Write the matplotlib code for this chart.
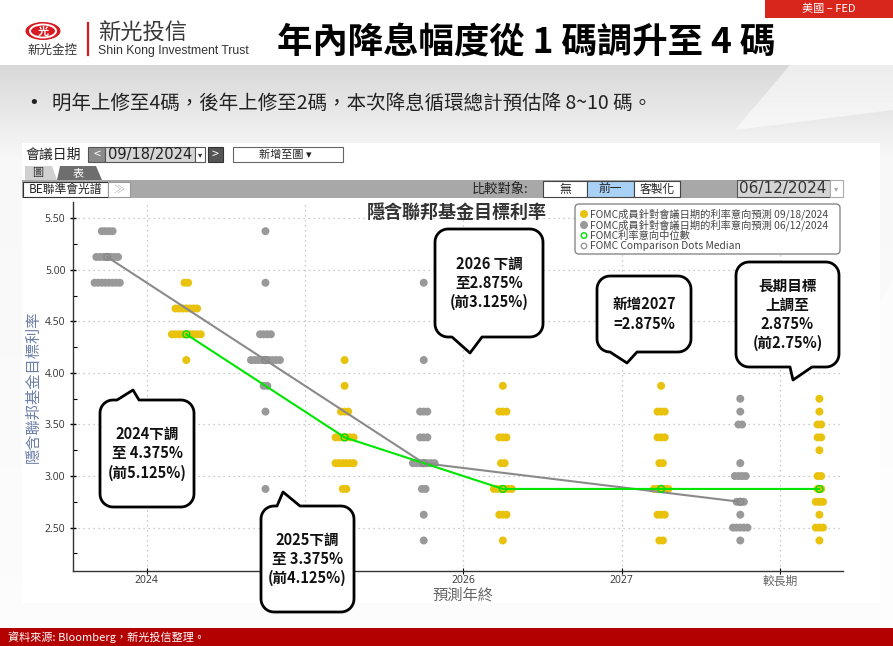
import numpy as np
import matplotlib
matplotlib.use("Agg")
import matplotlib.pyplot as plt
from matplotlib.patches import Polygon, Rectangle, Ellipse, FancyBboxPatch

plt.rcParams['font.family'] = ['Noto Sans CJK TC', 'DejaVu Sans']

# ---- data ----
categories = ['2024', '2025', '2026', '2027', '較長期']

# 09/18/2024 FOMC dots (yellow)
sep_rates = [
    [4.875, 4.625, 4.375, 4.125],
    [4.125, 3.875, 3.625, 3.375, 3.125, 2.875],
    [3.875, 3.625, 3.375, 3.125, 2.875, 2.625, 2.375],
    [3.875, 3.625, 3.375, 3.125, 2.875, 2.625, 2.375],
    [3.75, 3.625, 3.5, 3.375, 3.25, 3.0, 2.875, 2.75, 2.625, 2.5, 2.375],
]
sep_counts = [
    [2, 7, 9, 1],
    [1, 1, 3, 6, 6, 2],
    [1, 3, 3, 2, 6, 3, 1],
    [1, 3, 3, 2, 5, 3, 2],
    [1, 1, 2, 2, 1, 2, 2, 3, 1, 3, 1],
]
# 06/12/2024 FOMC dots (gray), no 2027 projection
jun_rates = [
    [5.375, 5.125, 4.875],
    [5.375, 4.875, 4.375, 4.125, 3.875, 3.625, 2.875],
    [4.875, 4.125, 3.625, 3.375, 3.125, 2.875, 2.625, 2.375],
    [],
    [3.75, 3.625, 3.5, 3.125, 3.0, 2.75, 2.625, 2.5, 2.375],
]
jun_counts = [
    [4, 7, 8],
    [1, 1, 4, 9, 2, 1, 1],
    [1, 1, 3, 3, 7, 2, 1, 1],
    [],
    [1, 1, 2, 1, 4, 3, 1, 5, 1],
]
sep_median = [4.375, 3.375, 2.875, 2.875, 2.875]
jun_median = [5.125, 4.125, 3.125, None, 2.75]

W, H = 893, 646
YELLOW = '#e8c20c'
GRAY = '#999999'

fig = plt.figure(figsize=(8.93, 6.46), dpi=100)
fig.patch.set_facecolor('white')

# background layer in pixel coords
bg = fig.add_axes([0, 0, 1, 1], zorder=0)
bg.axis('off')
grad = np.ones((200, 1, 3))
t = np.linspace(0, 1, 200)
shade = np.clip(0.85 + 0.12 * np.minimum(t * 6, 1) + 0.02 * t, 0, 1)
grad[:, 0, :] = shade[:, None]
bg.imshow(grad, extent=[0, W, 628, 65], aspect='auto', interpolation='bilinear')
bg.add_patch(Polygon([(790, 65), (893, 65), (893, 110), (735, 130)], closed=True,
                     fc='white', ec='none', alpha=0.55))
bg.add_patch(Polygon([(880, 300), (893, 280), (893, 628), (880, 628)], closed=True,
                     fc='white', ec='none', alpha=0.5))
bg.set_xlim(0, W)
bg.set_ylim(H, 0)

# header
bg.add_patch(Rectangle((765, 0), 128, 18, fc='#d9261c', ec='none'))
bg.text(829, 9, '美國 – FED', color='white', fontsize=8, ha='center', va='center')
bg.add_patch(Ellipse((43, 31), 35, 18, fc='#d71920', ec='none'))
bg.add_patch(Ellipse((43, 31), 26, 13, fc='none', ec='white', lw=1.4))
bg.text(43, 31, '光', color='white', fontsize=8, weight='bold', ha='center', va='center')
bg.text(52, 50, '新光金控', color='#333333', fontsize=9, ha='center', va='center')
bg.plot([88, 88], [23, 55], color='#d71920', lw=1.6)
bg.text(98, 33, '新光投信', color='#3a3a3a', fontsize=16, weight='medium',
        ha='left', va='center')
bg.text(98, 51, 'Shin Kong Investment Trust', color='#333333', fontsize=8.8,
        family='Liberation Sans', ha='left', va='center')
bg.text(526, 42, '年內降息幅度從 1 碼調升至 4 碼', fontsize=25.5, weight='bold',
        ha='center', va='center', color='black')
bg.text(34, 103, '•', fontsize=13, ha='center', va='center', color='#222222',
        family='DejaVu Sans')
bg.text(52, 103, '明年上修至4碼，後年上修至2碼，本次降息循環總計預估降 8~10 碼。',
        fontsize=14, ha='left', va='center', color='#222222')

# footer
bg.add_patch(Rectangle((0, 628), W, 18, fc='#b30000', ec='none'))
bg.text(8, 637, '資料來源: Bloomberg，新光投信整理。', color='white', fontsize=8,
        ha='left', va='center')

# chart panel (screenshot of the terminal)
bg.add_patch(Rectangle((22, 143), 858, 460, fc='white', ec='none'))
bg.text(25, 155, '會議日期', fontsize=10, ha='left', va='center', color='#222222')
bg.add_patch(Rectangle((88, 147), 17, 15, fc='#8a8a8a', ec='#555555', lw=0.8))
bg.text(96.5, 154.5, '<', fontsize=9, ha='center', va='center', color='white')
bg.add_patch(Rectangle((105, 147), 90, 15, fc='#d6d6d6', ec='#555555', lw=0.8))
bg.text(150, 154.5, '09/18/2024', fontsize=10.5, ha='center', va='center',
        color='#222222', family='DejaVu Sans')
bg.add_patch(Rectangle((195, 147), 10, 15, fc='white', ec='#555555', lw=0.8))
bg.text(200, 154.5, '▾', fontsize=6, ha='center', va='center', color='#333333',
        family='DejaVu Sans')
bg.add_patch(Rectangle((208, 147), 15, 15, fc='#555555', ec='#333333', lw=0.8))
bg.text(215.5, 154.5, '>', fontsize=9, ha='center', va='center', color='white')
bg.add_patch(Rectangle((233, 147), 110, 15, fc='white', ec='#666666', lw=0.8))
bg.text(285, 154.5, '新增至圖 ▾', fontsize=8, ha='center', va='center', color='#222222')
bg.add_patch(Polygon([(25, 180), (25, 166), (52, 166), (57, 180)], closed=True,
                     fc='#d0d0d0', ec='none'))
bg.text(38, 173, '圖', fontsize=8, ha='center', va='center', color='#333333')
bg.add_patch(Polygon([(57, 180), (60, 166), (96, 166), (102, 180)], closed=True,
                     fc='#6e6e6e', ec='none'))
bg.text(78, 173, '表', fontsize=8, ha='center', va='center', color='white')
bg.add_patch(Rectangle((22, 180), 821, 18, fc='#a8a8a8', ec='none'))
bg.add_patch(Rectangle((23, 182), 85, 15, fc='white', ec='#333333', lw=0.8))
bg.text(65.5, 189.5, 'BE聯準會光譜', fontsize=8.5, ha='center', va='center', color='#222222')
bg.add_patch(Rectangle((108, 182), 22, 15, fc='white', ec='#999999', lw=0.8))
bg.text(119, 189.5, '≫', fontsize=8, ha='center', va='center', color='#bbbbbb')
bg.text(528, 189.5, '比較對象:', fontsize=9.5, ha='right', va='center', color='#222222')
for (bx, bw, lab, fc) in [(543, 44, '無', 'white'), (587, 47, '前一', '#a9d1f5'),
                          (634, 46, '客製化', 'white')]:
    bg.add_patch(Rectangle((bx, 181), bw, 16, fc=fc, ec='#444444', lw=0.8))
    bg.text(bx + bw / 2, 189.5, lab, fontsize=8.5, ha='center', va='center', color='#222222')
bg.add_patch(Rectangle((737, 180), 93, 17, fc='#d4d4d4', ec='#555555', lw=0.8))
bg.text(783, 189, '06/12/2024', fontsize=11, ha='center', va='center', color='#333333',
        family='DejaVu Sans')
bg.add_patch(Rectangle((830, 180), 13, 17, fc='white', ec='#aaaaaa', lw=0.8))
bg.text(836.5, 189, '▾', fontsize=6, ha='center', va='center', color='#aaaaaa',
        family='DejaVu Sans')

# ---- the dot plot ----
ax = fig.add_axes([73 / W, 1 - 571 / H, (843 - 73) / W, (571 - 202) / H], zorder=1)
ax.set_facecolor('none')
step = 0.0228


def dots(rates, counts, shift):
    xs, ys = [], []
    for i, (rr, cc) in enumerate(zip(rates, counts)):
        for r, n in zip(rr, cc):
            for k in range(n):
                xs.append(i + shift + (k - (n - 1) / 2) * step)
                ys.append(r)
    return xs, ys


gx, gy = dots(jun_rates, jun_counts, -0.25)
yx, yy = dots(sep_rates, sep_counts, 0.25)
ax.scatter(gx, gy, s=33, color=GRAY, edgecolors='none', zorder=3)
ax.scatter(yx, yy, s=33, color=YELLOW, edgecolors='none', zorder=3)

jx = [i - 0.25 for i, m in enumerate(jun_median) if m is not None]
jy = [m for m in jun_median if m is not None]
sx = [i + 0.25 for i in range(len(sep_median))]
ax.plot(jx, jy, color='#8a8a8a', lw=1.5, zorder=4)
ax.plot(sx, sep_median, color='#00e600', lw=1.5, zorder=4)
ax.scatter(jx, jy, s=24, facecolors='none', edgecolors='#888888', lw=1, zorder=5)
ax.scatter(sx, sep_median, s=24, facecolors='none', edgecolors='#00dd00', lw=1, zorder=5)

ax.set_xlim(-0.466, 4.399)
ax.set_ylim(2.079, 5.658)
ax.set_xticks(range(len(categories)))
xlabels = ax.set_xticklabels(categories)
ax.set_yticks(np.arange(2.5, 5.51, 0.5))
ax.set_yticks(np.arange(2.25, 5.51, 0.25), minor=True)
ax.yaxis.set_major_formatter(matplotlib.ticker.FormatStrFormatter('%.2f'))
ax.tick_params(axis='y', which='major', direction='inout', length=5, width=1,
               labelsize=7.5, labelcolor='#333333', pad=3)
ax.tick_params(axis='y', which='minor', direction='in', length=3, width=0.8)
ax.tick_params(axis='x', direction='inout', length=4, labelsize=7.5,
               labelcolor='#333333', pad=1)
for lab in list(xlabels) + list(ax.get_yticklabels()):
    lab.set_family(['Open Sans', 'Noto Sans CJK TC'])
xlabels[4].set_color('#666666')
xlabels[4].set_fontsize(8.5)
xlabels[1].set_visible(False)   # hidden behind the 2025 callout
ax.grid(True, which='major', linestyle=(0, (1, 3)), color='#bbbbbb', lw=0.9)
for s in ['top', 'right']:
    ax.spines[s].set_visible(False)
for s in ['left', 'bottom']:
    ax.spines[s].set_color('#333333')
    ax.spines[s].set_linewidth(1)

# ---- foreground: titles, legend, callouts ----
fg = fig.add_axes([0, 0, 1, 1], zorder=2)
fg.axis('off')
fg.set_xlim(0, W)
fg.set_ylim(H, 0)

fg.text(457, 212, '隱含聯邦基金目標利率', fontsize=13, weight='bold', ha='center',
        va='center', color='#333333')
fg.text(33, 387, '隱含聯邦基金目標利率', fontsize=11, rotation=90, ha='center',
        va='center', color='#6c7ea6')
fg.text(463, 595, '預測年終', fontsize=11, ha='center', va='center', color='#666666')

fg.add_patch(FancyBboxPatch((575, 204), 265, 50, boxstyle='round,pad=0,rounding_size=4',
                            fc='white', ec='#888888', lw=1))
legend_rows = [
    ('FOMC成員針對會議日期的利率意向預測 09/18/2024', YELLOW, 'fill', 214),
    ('FOMC成員針對會議日期的利率意向預測 06/12/2024', GRAY, 'fill', 225),
    ('FOMC利率意向中位數', '#00dd00', 'ring', 235.5),
    ('FOMC Comparison Dots Median', '#999999', 'ring', 246),
]
for txt, c, kind, yy_ in legend_rows:
    if kind == 'fill':
        fg.add_patch(Ellipse((584, yy_), 8, 8, fc=c, ec='none'))
    else:
        fg.add_patch(Ellipse((584, yy_), 5.5, 5.5, fc='none', ec=c, lw=1))
    fg.text(590, yy_, txt, fontsize=7.4, ha='left', va='center', color='#444444')


def bubble(x0, y0, x1, y1, tail, lines, r=13):
    side, a, b, tx, ty = tail
    pts = []

    def arc(cx, cy, t0, t1):
        for tt in np.linspace(t0, t1, 10):
            pts.append((cx + r * np.cos(tt), cy + r * np.sin(tt)))

    arc(x0 + r, y0 + r, np.pi, 1.5 * np.pi)
    if side == 'top':
        pts.extend([(a, y0), (tx, ty), (b, y0)])
    arc(x1 - r, y0 + r, 1.5 * np.pi, 2 * np.pi)
    arc(x1 - r, y1 - r, 0, 0.5 * np.pi)
    if side == 'bottom':
        pts.extend([(b, y1), (tx, ty), (a, y1)])
    arc(x0 + r, y1 - r, 0.5 * np.pi, np.pi)
    fg.add_patch(Polygon(pts, closed=True, fc='white', ec='black', lw=2, joinstyle='round'))
    cx = (x0 + x1) / 2
    cy = (y0 + y1) / 2
    fg.text(cx, cy, '\n'.join(lines), fontsize=10.5, weight='bold', ha='center',
            va='center', linespacing=1.25, color='#111111')


bubble(100, 400, 194, 507, ('top', 117, 139, 133, 390),
       ['2024下調', '至 4.375%', '(前5.125%)'])
bubble(261, 506, 354, 612, ('top', 277, 300, 283, 492),
       ['2025下調', '至 3.375%', '(前4.125%)'])
bubble(435, 229, 543, 337, ('bottom', 452, 482, 470, 353),
       ['2026 下調', '至2.875%', '(前3.125%)'])
bubble(597, 276, 691, 352, ('bottom', 610, 637, 627, 363),
       ['新增2027', '=2.875%'])
bubble(736, 262, 839, 367, ('bottom', 790, 812, 793, 380),
       ['長期目標', '上調至', '2.875%', '(前2.75%)'])

fig.savefig('out.png', dpi=100)
